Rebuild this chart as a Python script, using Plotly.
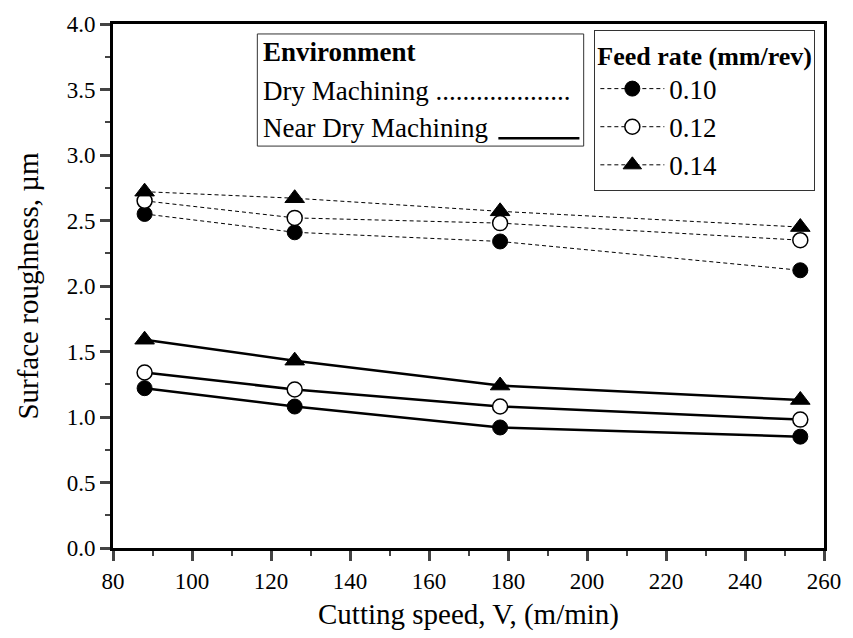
import plotly.graph_objects as go

speed = [88, 126, 178, 254]
feed_labels = ["0.10", "0.12", "0.14"]
dry = {
    "0.10": [2.55, 2.41, 2.34, 2.12],
    "0.12": [2.65, 2.52, 2.48, 2.35],
    "0.14": [2.72, 2.67, 2.57, 2.45],
}
near_dry = {
    "0.10": [1.22, 1.08, 0.92, 0.85],
    "0.12": [1.34, 1.21, 1.08, 0.98],
    "0.14": [1.59, 1.43, 1.24, 1.13],
}
x_ticks = list(range(80, 261, 20))
y_ticks = [0.0, 0.5, 1.0, 1.5, 2.0, 2.5, 3.0, 3.5, 4.0]

FONT = "Liberation Serif"
marker_style = {
    "0.10": dict(symbol="circle", size=15, color="black", line=dict(color="black", width=1)),
    "0.12": dict(symbol="circle", size=15, color="white", line=dict(color="black", width=1.5)),
    "0.14": dict(symbol="triangle-up", size=17, color="black", line=dict(color="black", width=1)),
}

fig = go.Figure()
for f in feed_labels:
    fig.add_trace(go.Scatter(
        x=speed, y=near_dry[f], mode="lines+markers", name=f, showlegend=False,
        line=dict(color="black", width=2.5), marker=marker_style[f]))
for f in feed_labels:
    fig.add_trace(go.Scatter(
        x=speed, y=dry[f], mode="lines+markers", name=f, showlegend=True,
        line=dict(color="black", width=1, dash="4px,3px"), marker=marker_style[f]))

fig.update_layout(
    width=853, height=638,
    margin=dict(l=113, r=22, t=17, b=88),
    paper_bgcolor="white", plot_bgcolor="white",
    font=dict(family=FONT, size=23, color="black"),
    showlegend=True,
    legend=dict(
        x=0.677, y=0.989, xanchor="left", yanchor="top",
        bordercolor="#333", borderwidth=1, bgcolor="white",
        title=dict(text="<b>Feed rate (mm/rev)</b>", font=dict(family=FONT, size=26)),
        font=dict(family=FONT, size=27), tracegroupgap=0, itemwidth=64,
    ),
    xaxis=dict(
        range=[80, 260], tickvals=x_ticks, ticks="outside", ticklen=10, tickwidth=2.5,
        minor=dict(tickvals=list(range(90, 260, 20)), ticks="outside", ticklen=5, tickwidth=2),
        showline=True, linewidth=3, linecolor="black", mirror=True, showgrid=False,
        zeroline=False, tickfont=dict(size=23),
        title=dict(text="Cutting speed, V, (m/min)", font=dict(size=29), standoff=12),
    ),
    yaxis=dict(
        range=[0, 4], tickvals=y_ticks, ticktext=[f"{v:.1f}" for v in y_ticks],
        ticks="outside", ticklen=10, tickwidth=2.5,
        minor=dict(tickvals=[0.25 + 0.5 * i for i in range(8)], ticks="outside", ticklen=5, tickwidth=2),
        showline=True, linewidth=3, linecolor="black", mirror=True, showgrid=False,
        zeroline=False, tickfont=dict(size=23),
        title=dict(text="Surface roughness, µm", font=dict(size=29), standoff=20),
    ),
)

# Environment box
fig.add_shape(type="rect", xref="paper", yref="paper", x0=0.203, x1=0.662, y0=0.767, y1=0.981,
              line=dict(color="#333", width=1), fillcolor="white", layer="above")
fig.add_annotation(xref="paper", yref="paper", x=0.208, y=0.947, xanchor="left", yanchor="middle",
                   text="<b>Environment</b>", showarrow=False, font=dict(family=FONT, size=27))
fig.add_annotation(xref="paper", yref="paper", x=0.208, y=0.872, xanchor="left", yanchor="middle",
                   text="Dry Machining ....................", showarrow=False, font=dict(family=FONT, size=27))
fig.add_annotation(xref="paper", yref="paper", x=0.208, y=0.801, xanchor="left", yanchor="middle",
                   text="Near Dry Machining", showarrow=False, font=dict(family=FONT, size=27))
fig.add_shape(type="line", xref="paper", yref="paper", x0=0.542, x1=0.656, y0=0.782, y1=0.782,
              line=dict(color="black", width=2.5), layer="above")

fig.write_html("out.html")
